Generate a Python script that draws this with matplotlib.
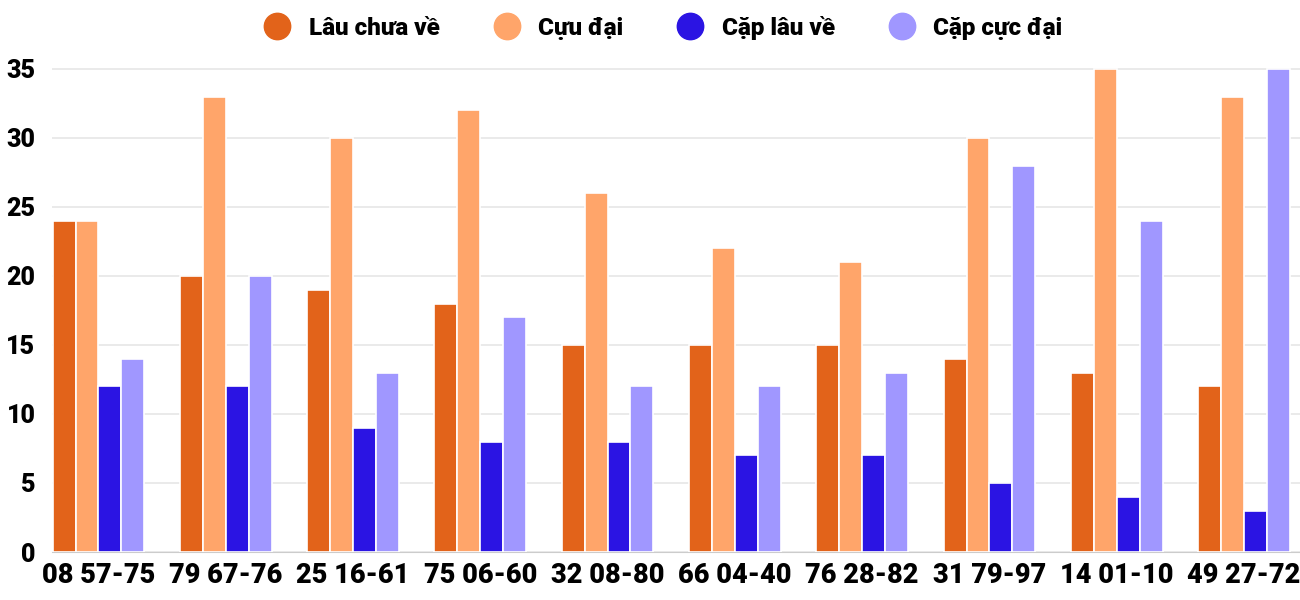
import numpy as np
import matplotlib.pyplot as plt

plt.rcParams['font.family'] = ['Roboto', 'DejaVu Sans']
plt.rcParams['font.weight'] = 'heavy'

labels = ['08 57-75', '79 67-76', '25 16-61', '75 06-60', '32 08-80',
          '66 04-40', '76 28-82', '31 79-97', '14 01-10', '49 27-72']
lau_chua_ve = [24, 20, 19, 18, 15, 15, 15, 14, 13, 12]
cuc_dai = [24, 33, 30, 32, 26, 22, 21, 30, 35, 33]
cap_lau_ve = [12, 12, 9, 8, 8, 7, 7, 5, 4, 3]
cap_cuc_dai = [14, 20, 13, 17, 12, 12, 13, 28, 24, 35]

series = [
    ('Lâu chưa về', lau_chua_ve, '#E2631A'),
    ('Cựu đại', cuc_dai, '#FFA56A'),
    ('Cặp lâu về', cap_lau_ve, '#2B14E3'),
    ('Cặp cực đại', cap_cuc_dai, '#A097FF'),
]

fig = plt.figure(figsize=(13, 6), dpi=100)
ax = fig.add_axes([52 / 1300, 48 / 600, 1 - 52 / 1300, 490 / 600])

x = np.arange(len(labels))
w = 0.18
for i, (name, vals, col) in enumerate(series):
    ax.bar(x + (i - 1.5) * w, vals, w, color=col, edgecolor='white',
           linewidth=1.2, label=name, zorder=3)

ax.set_xlim(-0.365, 9.44)
ax.set_ylim(0, 35.5)
ax.set_yticks(range(0, 36, 5))
ax.set_xticks(x)
ax.set_xticklabels(labels, fontsize=19.5, fontweight='heavy')
ax.tick_params(axis='y', labelsize=18, length=0, pad=12)
ax.tick_params(axis='x', length=0, pad=7)
for t in ax.get_yticklabels():
    t.set_fontweight('heavy')
ax.grid(axis='y', color='#e6e6e6', linewidth=1.2, zorder=0)
for s in ['top', 'right', 'left']:
    ax.spines[s].set_visible(False)
ax.spines['bottom'].set_color('#cccccc')

handles = [plt.Line2D([], [], marker='o', linestyle='', markersize=19,
                      color=col) for _, _, col in series]
fig.legend(handles, [s[0] for s in series], loc='upper center',
           bbox_to_anchor=(0.506, 1.01), ncol=4, frameon=False,
           prop={'size': 17.5, 'weight': 'heavy'}, handletextpad=0.3,
           columnspacing=1.75)

fig.savefig('out.png')
